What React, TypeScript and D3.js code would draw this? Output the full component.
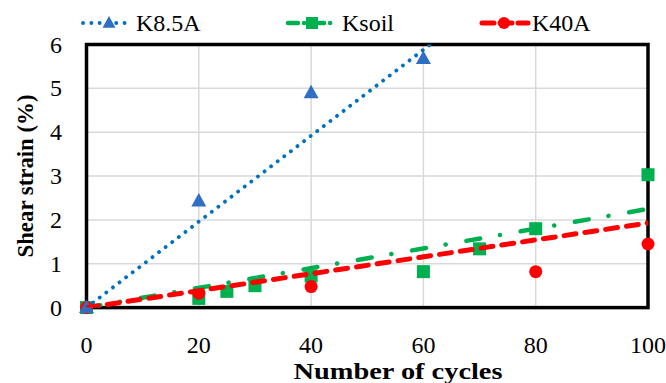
import React from "react";
import * as d3 from "d3";

const k85Cycles = [0, 20, 40, 60];
const k85Strain = [0, 2.43, 4.9, 5.68];
const ksoilCycles = [0, 20, 25, 30, 40, 60, 70, 80, 100];
const ksoilStrain = [0, 0.21, 0.37, 0.5, 0.72, 0.82, 1.34, 1.8, 3.03];
const k40Cycles = [0, 20, 40, 80, 100];
const k40Strain = [0, 0.33, 0.48, 0.82, 1.45];
// trendline slopes (linear through origin)
const k85Slope = 0.098;
const ksoilSlope = 0.0225;
const k40Slope = 0.0193;
const xTicks = [0, 20, 40, 60, 80, 100];
const yTicks = [0, 1, 2, 3, 4, 5, 6];

const x = d3.scaleLinear().domain([0, 100]).range([86.5, 648]);
const y = d3.scaleLinear().domain([0, 6]).range([307.6, 44.5]);

const BLUE = "#0070C0";
const BLUE_M = "#2E6FC4";
const GREEN = "#00B050";
const RED = "#FF0000";

function tri(cx: number, cy: number, s: number) {
  const h = s * 0.9;
  return `M${cx},${cy - h * 0.6} L${cx + s / 2},${cy + h * 0.4} L${cx - s / 2},${cy + h * 0.4} Z`;
}

const css = `.lbl { font-family: "Liberation Serif", "Times New Roman", Times, serif; font-size: 24px; fill: #000; }
.ttl { font-family: "Liberation Serif", "Times New Roman", Times, serif; font-size: 24px; font-weight: bold; fill: #000; }`;

export default function App() {
  const line = d3.line<[number, number]>().x(d => x(d[0])).y(d => y(d[1]));
  return (
    <div style={{ position: "absolute", left: 0, top: 0, width: 666, height: 383, fontFamily: "'Liberation Serif', serif" }}>
      <svg width={666} height={383} style={{ display: "block", background: "#fff" }}>
        <style>{css}</style>
        <defs>
          <clipPath id="plotclip">
            <rect x={x(0)} y={y(6)} width={x(100) - x(0)} height={y(0) - y(6)} />
          </clipPath>
        </defs>
        {yTicks.slice(1, -1).map(t => (
          <line key={"gy" + t} x1={x(0)} x2={x(100)} y1={y(t)} y2={y(t)} stroke="#d9d9d9" strokeWidth={1.5} />
        ))}
        {xTicks.slice(1, -1).map(t => (
          <line key={"gx" + t} x1={x(t)} x2={x(t)} y1={y(0)} y2={y(6)} stroke="#d9d9d9" strokeWidth={1.5} />
        ))}
        <rect x={x(0)} y={y(6)} width={x(100) - x(0)} height={y(0) - y(6)} fill="none" stroke="#000" strokeWidth={3.5} />
        {ksoilCycles.map((c, i) => (
          <rect key={"s" + i} x={x(c) - 6.5} y={y(ksoilStrain[i]) - 6.5} width={13} height={13} fill={GREEN} />
        ))}
        {k40Cycles.map((c, i) => (
          <circle key={"c" + i} cx={x(c)} cy={y(k40Strain[i])} r={6.5} fill={RED} />
        ))}
        {k85Cycles.map((c, i) => (
          <path key={"t" + i} d={tri(x(c), y(k85Strain[i]), 15)} fill={BLUE_M} />
        ))}
        <g clipPath="url(#plotclip)" fill="none">
          <path d={line([[0, 0], [6 / k85Slope, 6]]) || ""} stroke={BLUE} strokeWidth={3.8} strokeDasharray="0.1 8.2" strokeLinecap="round" />
          <path d={line([[0, 0], [100, 100 * ksoilSlope]]) || ""} stroke={GREEN} strokeWidth={4.5} strokeDasharray="14 20 0.1 21" strokeLinecap="round" />
          <path d={line([[0, 0], [100, 100 * k40Slope]]) || ""} stroke={RED} strokeWidth={5} strokeDasharray="12 9" strokeLinecap="round" />
        </g>
        {yTicks.map(t => (
          <text key={"yt" + t} className="lbl" x={62} y={y(t) + 8} textAnchor="end">{t}</text>
        ))}
        {xTicks.map(t => (
          <text key={"xt" + t} className="lbl" x={x(t)} y={353} textAnchor="middle">{t}</text>
        ))}
        <text className="ttl" x={398} y={379} textAnchor="middle" textLength={209} lengthAdjust="spacingAndGlyphs">Number of cycles</text>
        <text className="ttl" transform="translate(33,176) rotate(-90)" textAnchor="middle" textLength={163} lengthAdjust="spacingAndGlyphs">Shear strain (%)</text>
        <line x1={83} x2={132} y1={23} y2={23} stroke={BLUE} strokeWidth={3.8} strokeDasharray="0.1 8.2" strokeLinecap="round" />
        <path d={tri(109, 23, 13)} fill={BLUE_M} />
        <line x1={288} x2={340} y1={23} y2={23} stroke={GREEN} strokeWidth={4.5} strokeDasharray="10 6 0.1 10" strokeLinecap="round" />
        <rect x={306} y={17} width={12} height={12} fill={GREEN} />
        <line x1={482} x2={528} y1={23} y2={23} stroke={RED} strokeWidth={5} strokeDasharray="12 6" strokeLinecap="round" />
        <circle cx={504} cy={23} r={6} fill={RED} />
        <text className="lbl" x={136} y={31}>K8.5A</text>
        <text className="lbl" x={342} y={31}>Ksoil</text>
        <text className="lbl" x={532} y={31}>K40A</text>
      </svg>
    </div>
  );
}
